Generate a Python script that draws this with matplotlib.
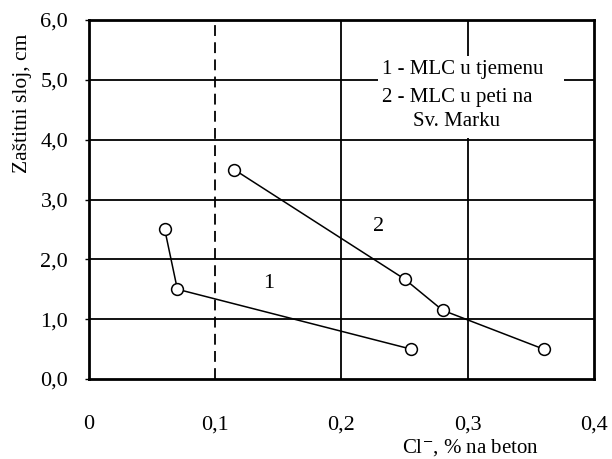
import matplotlib
matplotlib.use("Agg")
import matplotlib.pyplot as plt
from matplotlib.patches import Rectangle

plt.rcParams["font.family"] = "Liberation Serif"
plt.rcParams["mathtext.fontset"] = "stix"

# series 1 - MLC u tjemenu
x1 = [0.060, 0.070, 0.255]
y1 = [2.5, 1.5, 0.5]
# series 2 - MLC u peti na Sv. Marku
x2 = [0.115, 0.250, 0.280, 0.360]
y2 = [3.5, 1.67, 1.15, 0.5]

xticks = [0.0, 0.1, 0.2, 0.3, 0.4]
xlabels = ["0", "0,1", "0,2", "0,3", "0,4"]
yticks = [0, 1, 2, 3, 4, 5, 6]
ylabels = ["0,0", "1,0", "2,0", "3,0", "4,0", "5,0", "6,0"]

fig = plt.figure(figsize=(6.12, 4.59), dpi=100)
ax = fig.add_axes([0.1454, 0.1743, 0.8252, 0.7821])
ax.set_xlim(0, 0.4)
ax.set_ylim(0, 6)

# grid
for yv in yticks[1:-1]:
    ax.axhline(yv, color="black", lw=1.3, zorder=1)
for xv in [0.2, 0.3]:
    ax.axvline(xv, color="black", lw=1.3, zorder=1)
ax.axvline(0.1, color="black", lw=1.3, ls=(0, (6, 3.5)), zorder=1)

# legend box covering grid
ax.add_patch(Rectangle((0.229, 4.03), 0.147, 1.37, facecolor="white",
                       edgecolor="none", zorder=2))
ax.text(0.296, 5.17, "1 - MLC u tjemenu", ha="center", va="center", fontsize=15, zorder=3)
ax.text(0.292, 4.71, "2 - MLC u peti na", ha="center", va="center", fontsize=15, zorder=3)
ax.text(0.291, 4.31, "Sv. Marku", ha="center", va="center", fontsize=15, zorder=3)

ax.plot(x1, y1, color="black", lw=1.1, marker="o", ms=8.5, mfc="white", mec="black", mew=1.1, zorder=4)
ax.plot(x2, y2, color="black", lw=1.1, marker="o", ms=8.5, mfc="white", mec="black", mew=1.1, zorder=4)

ax.text(0.142, 1.6, "1", ha="center", va="center", fontsize=16, zorder=3)
ax.text(0.229, 2.55, "2", ha="center", va="center", fontsize=16, zorder=3)

ax.set_xticks(xticks)
ax.set_xticklabels(xlabels, fontsize=16)
ax.set_yticks(yticks)
ax.set_yticklabels(ylabels, fontsize=16)
ax.tick_params(axis="x", length=0, pad=26)
ax.tick_params(axis="y", length=3, width=1, pad=12)

for s in ax.spines.values():
    s.set_linewidth(2)

fig.text(0.036, 0.776, "Zaštitni sloj, cm", rotation=90, ha="center", va="center", fontsize=15.5)
fig.text(0.768, 0.025, r"Cl$^{-}$, % na beton", ha="center", va="center", fontsize=15)

fig.savefig("out.png", dpi=100, facecolor="white")
